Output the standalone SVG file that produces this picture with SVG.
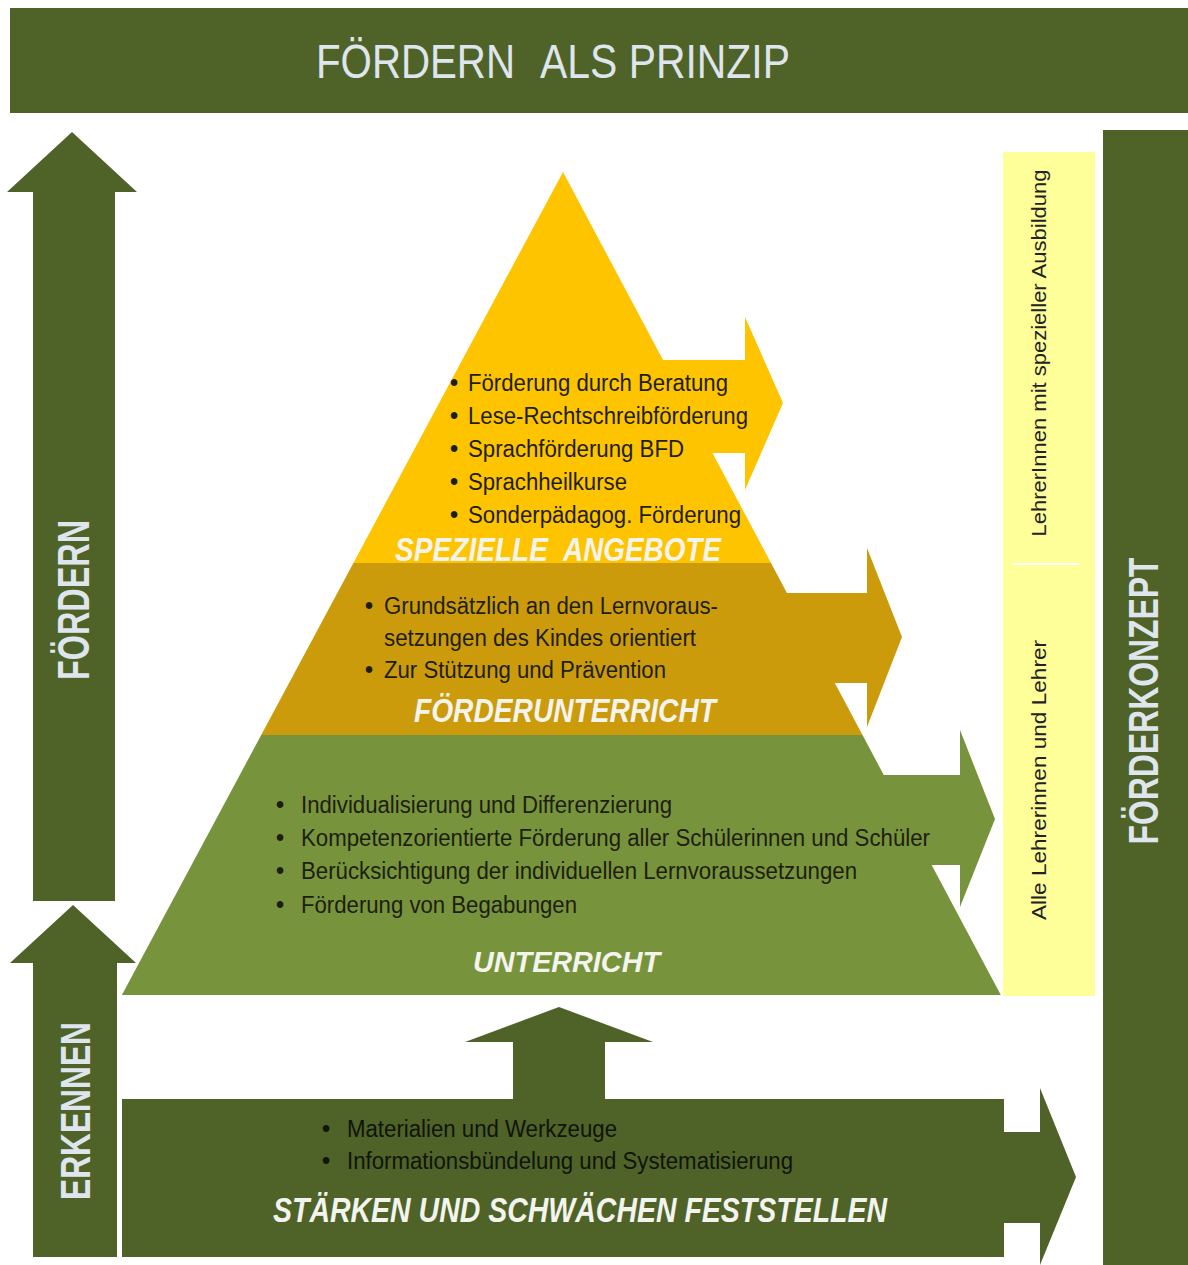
<svg xmlns="http://www.w3.org/2000/svg" width="1188" height="1265" viewBox="0 0 1188 1265">
<style>
.dg{fill:#4f6228}
.og{fill:#77933c}
.gd{fill:#cb9b0b}
.yl{fill:#ffc400}
.ly{fill:#ffff99}
.hd{font-family:"Liberation Sans",Arial,sans-serif;fill:#dfe5ec}
.hdb{font-family:"Liberation Sans",Arial,sans-serif;font-weight:bold;fill:#dfe5ec}
.it{font-family:"Liberation Sans",Arial,sans-serif;font-weight:bold;font-style:italic;fill:#f4f4ee}
.tx{font-family:"Liberation Sans",Arial,sans-serif;font-size:23px;fill:#1e1e10}
.bt{font-family:"Liberation Sans",Arial,sans-serif;font-size:23px;fill:#10140a}
.bl{font-weight:bold}
.rt{font-family:"Liberation Sans",Arial,sans-serif;font-size:21px;fill:#222}
</style>
<rect width="1188" height="1265" fill="#ffffff"/>

<g id="banner">
<rect class="dg" x="10" y="8" width="1178" height="105"/>
<text class="hd" x="316" y="78" font-size="48" textLength="199" lengthAdjust="spacingAndGlyphs">FÖRDERN</text>
<text class="hd" x="540" y="78" font-size="48" textLength="250" lengthAdjust="spacingAndGlyphs">ALS PRINZIP</text>
</g>

<g id="foerdern-arrow">
<polygon class="dg" points="72,132 137,192 115,192 115,901 33,901 33,192 7,192"/>
<text class="hdb" transform="translate(89,600) rotate(-90)" text-anchor="middle" font-size="45" textLength="160" lengthAdjust="spacingAndGlyphs">FÖRDERN</text>
</g>

<g id="erkennen-arrow">
<polygon class="dg" points="73,905 136,963 117,963 117,1257 33,1257 33,963 10,963"/>
<text class="hdb" transform="translate(90,1111) rotate(-90)" text-anchor="middle" font-size="42" textLength="178" lengthAdjust="spacingAndGlyphs">ERKENNEN</text>
</g>

<g id="lehrer-column">
<rect class="ly" x="1003" y="152" width="92" height="844"/>
<line x1="1013" y1="564" x2="1080" y2="564" stroke="#ffffff" stroke-width="2"/>
<text class="rt" transform="translate(1046,353) rotate(-90)" text-anchor="middle" textLength="367" lengthAdjust="spacingAndGlyphs">LehrerInnen mit spezieller Ausbildung</text>
<text class="rt" transform="translate(1046,780) rotate(-90)" text-anchor="middle" textLength="280" lengthAdjust="spacingAndGlyphs">Alle Lehrerinnen und Lehrer</text>
</g>

<g id="foerderkonzept">
<rect class="dg" x="1103" y="130" width="85" height="1135"/>
<text class="hdb" transform="translate(1158,701) rotate(-90)" text-anchor="middle" font-size="43" textLength="287" lengthAdjust="spacingAndGlyphs">FÖRDERKONZEPT</text>
</g>

<g id="unterricht">
<polygon class="og" points="261.2,735 862.5,735 1000.8,995 121.9,995"/>
<polygon class="og" points="800,775 960,775 960,730 995,819 960,907 960,865 800,865"/>
<g class="tx">
<text y="813"><tspan x="276" class="bl">•</tspan><tspan x="301" textLength="371" lengthAdjust="spacingAndGlyphs">Individualisierung und Differenzierung</tspan></text>
<text y="846"><tspan x="276" class="bl">•</tspan><tspan x="301" textLength="629" lengthAdjust="spacingAndGlyphs">Kompetenzorientierte Förderung aller Schülerinnen und Schüler</tspan></text>
<text y="879"><tspan x="276" class="bl">•</tspan><tspan x="301" textLength="556" lengthAdjust="spacingAndGlyphs">Berücksichtigung der individuellen Lernvoraussetzungen</tspan></text>
<text y="913"><tspan x="276" class="bl">•</tspan><tspan x="301" textLength="276" lengthAdjust="spacingAndGlyphs">Förderung von Begabungen</tspan></text>
</g>
<text class="it" x="473" y="972" font-size="30" textLength="187" lengthAdjust="spacingAndGlyphs">UNTERRICHT</text>
</g>

<g id="foerderunterricht">
<polygon class="gd" points="353.4,563 771,563 862.5,735 261.2,735"/>
<polygon class="gd" points="700,593 867,593 867,548 902,637 867,727 867,683 700,683"/>
<g class="tx">
<text y="614"><tspan x="365" class="bl">•</tspan><tspan x="384" textLength="334" lengthAdjust="spacingAndGlyphs">Grundsätzlich an den Lernvoraus-</tspan></text>
<text x="384" y="646" textLength="312" lengthAdjust="spacingAndGlyphs">setzungen des Kindes orientiert</text>
<text y="678"><tspan x="365" class="bl">•</tspan><tspan x="384" textLength="282" lengthAdjust="spacingAndGlyphs">Zur Stützung und Prävention</tspan></text>
</g>
<text class="it" x="414" y="722" font-size="33" textLength="302" lengthAdjust="spacingAndGlyphs">FÖRDERUNTERRICHT</text>
</g>

<g id="spezielle-angebote">
<polygon class="yl" points="563,172 771,563 353.4,563"/>
<polygon class="yl" points="600,360 745,360 745,317 783,403 745,490 745,453 600,453"/>
<g class="tx">
<text y="391"><tspan x="450" class="bl">•</tspan><tspan x="468" textLength="260" lengthAdjust="spacingAndGlyphs">Förderung durch Beratung</tspan></text>
<text y="424"><tspan x="450" class="bl">•</tspan><tspan x="468" textLength="280" lengthAdjust="spacingAndGlyphs">Lese-Rechtschreibförderung</tspan></text>
<text y="457"><tspan x="450" class="bl">•</tspan><tspan x="468" textLength="216" lengthAdjust="spacingAndGlyphs">Sprachförderung BFD</tspan></text>
<text y="490"><tspan x="450" class="bl">•</tspan><tspan x="468" textLength="159" lengthAdjust="spacingAndGlyphs">Sprachheilkurse</tspan></text>
<text y="523"><tspan x="450" class="bl">•</tspan><tspan x="468" textLength="273" lengthAdjust="spacingAndGlyphs">Sonderpädagog. Förderung</tspan></text>
</g>
<text class="it" x="395" y="561" font-size="33" textLength="153" lengthAdjust="spacingAndGlyphs">SPEZIELLE</text>
<text class="it" x="563" y="561" font-size="33" textLength="158" lengthAdjust="spacingAndGlyphs">ANGEBOTE</text>
</g>

<g id="staerken-schwaechen">
<polygon class="dg" points="122,1099 1004,1099 1004,1132 1040,1132 1040,1088 1076,1177 1040,1265 1040,1223 1004,1223 1004,1257 122,1257"/>
<g class="bt">
<text y="1137"><tspan x="322" class="bl">•</tspan><tspan x="347" textLength="270" lengthAdjust="spacingAndGlyphs">Materialien und Werkzeuge</tspan></text>
<text y="1169"><tspan x="322" class="bl">•</tspan><tspan x="347" textLength="446" lengthAdjust="spacingAndGlyphs">Informationsbündelung und Systematisierung</tspan></text>
</g>
<text class="it" x="273" y="1222" font-size="35" textLength="614" lengthAdjust="spacingAndGlyphs">STÄRKEN UND SCHWÄCHEN FESTSTELLEN</text>
</g>

<g id="connectors">
<polygon class="dg" points="559,1007 653,1042 605,1042 605,1100 513,1100 513,1042 465,1042"/>
</g>
</svg>
